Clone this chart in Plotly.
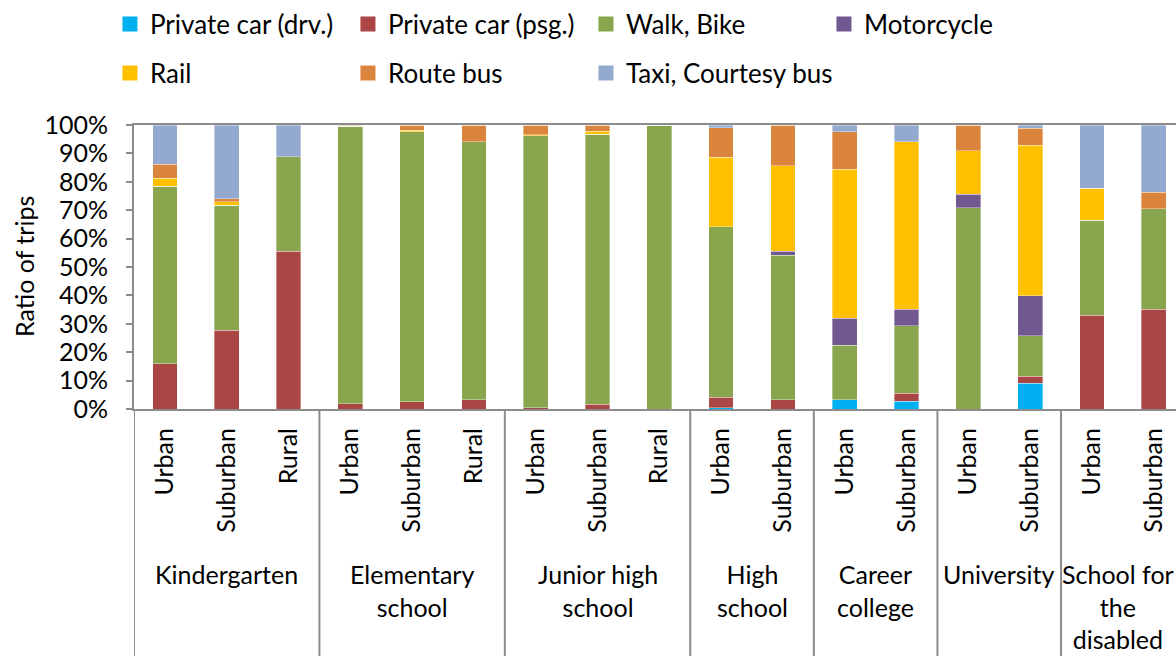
import plotly.graph_objects as go

# categories
groups = ["Kindergarten", "Elementary<br>school", "Junior high<br>school", "High<br>school",
          "Career<br>college", "University", "School for<br>the<br>disabled"]
group_areas = [
    ["Urban", "Suburban", "Rural"],
    ["Urban", "Suburban", "Rural"],
    ["Urban", "Suburban", "Rural"],
    ["Urban", "Suburban"],
    ["Urban", "Suburban"],
    ["Urban", "Suburban"],
    ["Urban", "Suburban"],
]

# ratio of trips (%) per mode, one value per bar (left to right)
car_drv = [0, 0, 0, 0, 0, 0, 0, 0, 0, 0.5, 0, 3.2, 2.7, 0, 9.1, 0, 0]
car_psg = [16.0, 27.7, 55.5, 1.9, 2.5, 3.3, 0.5, 1.6, 0, 3.6, 3.3, 0, 2.9, 0, 2.4, 33.1, 35.1]
walk_bike = [62.5, 44.0, 33.4, 97.7, 95.2, 90.8, 95.7, 95.2, 100, 60.1, 50.9, 19.3, 23.7, 70.8, 14.3, 33.4, 35.5]
motorcycle = [0, 0, 0, 0, 0, 0, 0, 0, 0, 0, 1.4, 9.4, 5.8, 4.9, 14.1, 0, 0]
rail = [2.7, 1.2, 0, 0, 0.5, 0, 0.4, 1.0, 0, 24.5, 30.0, 52.6, 59.0, 15.2, 52.9, 11.2, 0]
route_bus = [5.0, 1.1, 0, 0.4, 1.8, 5.9, 3.4, 2.2, 0, 10.4, 14.4, 13.2, 0, 9.1, 6.0, 0, 5.7]
taxi = [13.8, 26.0, 11.1, 0, 0, 0, 0, 0, 0, 0.9, 0, 2.3, 5.9, 0, 1.2, 22.3, 23.7]

series = [
    ("Private car (drv.)", car_drv, "#00B0F0", "legend"),
    ("Private car (psg.)", car_psg, "#AA4643", "legend"),
    ("Walk, Bike", walk_bike, "#89A54E", "legend"),
    ("Motorcycle", motorcycle, "#71588F", "legend"),
    ("Rail", rail, "#FFC000", "legend2"),
    ("Route bus", route_bus, "#DB843D", "legend2"),
    ("Taxi, Courtesy bus", taxi, "#93A9CF", "legend3"),
]

sub_labels = [a for g in group_areas for a in g]
xpos = list(range(len(sub_labels)))

FONT = "Lato"
FS = 25
AXIS = "#8C8C8C"

fig = go.Figure()
for name, vals, color, lg in series:
    fig.add_trace(go.Bar(
        x=xpos, y=vals, name=name, showlegend=False,
        marker=dict(color=color, line=dict(color="rgba(255,255,255,0.6)", width=0.6)),
    ))
# legend entries with bigger square keys
for name, vals, color, lg in series:
    fig.add_trace(go.Scatter(
        x=[None], y=[None], mode="markers", name=name, legend=lg,
        marker=dict(symbol="square", size=15, color=color),
    ))

# group dividers and group labels
shapes = []
annotations = []
start = 0
bounds = [-0.5]
for g, areas in zip(groups, group_areas):
    n = len(areas)
    centre = start + (n - 1) / 2
    ann = dict(
        x=centre, xref="x", y=(409 - 557) / 284, yref="paper",
        text=g, showarrow=False, xanchor="center", yanchor="top",
        font=dict(family=FONT, size=FS, color="black"), align="center",
    )
    if g == groups[-1]:
        # last label sits against the right edge of the picture
        ann.update(x=1, xref="paper", xanchor="right")
    annotations.append(ann)
    start += n
    bounds.append(start - 0.5)

for b in bounds:
    shapes.append(dict(type="line", xref="x", yref="paper", x0=b, x1=b,
                       y0=0, y1=-1.0, line=dict(color=AXIS, width=2)))

annotations.append(dict(
    x=(24 - 134) / 1042, xref="paper", y=0.5, yref="paper",
    text="Ratio of trips", textangle=-90, showarrow=False,
    xanchor="center", yanchor="middle",
    font=dict(family=FONT, size=FS, color="black"),
))

legend_common = dict(
    orientation="h", xref="container", yref="container",
    xanchor="left", yanchor="middle", entrywidth=193, entrywidthmode="pixels",
    font=dict(family=FONT, size=26, color="black"),
    bgcolor="rgba(0,0,0,0)", itemclick=False, traceorder="normal",
)
legend3 = {k: v for k, v in legend_common.items() if k not in ("entrywidth", "entrywidthmode")}

LX = 0.0935
fig.update_layout(
    width=1176, height=656,
    barmode="stack", bargap=0.6,
    margin=dict(l=134, r=0, t=125, b=247),
    plot_bgcolor="white", paper_bgcolor="white",
    font=dict(family=FONT, size=FS, color="black"),
    showlegend=True,
    legend=dict(x=LX, y=1 - 24 / 656, **legend_common),
    legend2=dict(x=LX, y=1 - 73 / 656, **legend_common),
    legend3=dict(x=LX + 476 / 1176, y=1 - 73 / 656, **legend3),
    xaxis=dict(
        range=[-0.5, 16.36], tickvals=xpos, ticktext=sub_labels,
        tickangle=-90, ticks="", showline=True, linecolor=AXIS, linewidth=2,
        mirror=True, showgrid=False, zeroline=False, ticklabelstandoff=7,
        automargin=False,
        tickfont=dict(family=FONT, size=FS, color="black"),
    ),
    yaxis=dict(
        range=[0, 100], dtick=10, ticksuffix="%", ticks="outside", ticklen=6,
        tickwidth=2, tickcolor=AXIS, showline=True, linecolor=AXIS, linewidth=2,
        showgrid=False, zeroline=False, ticklabelstandoff=13, automargin=False,
        tickfont=dict(family=FONT, size=FS, color="black"),
    ),
    shapes=shapes,
    annotations=annotations,
)

fig.write_html("out.html", config={"displayModeBar": False},
               post_script="document.body.style.margin='0';")
